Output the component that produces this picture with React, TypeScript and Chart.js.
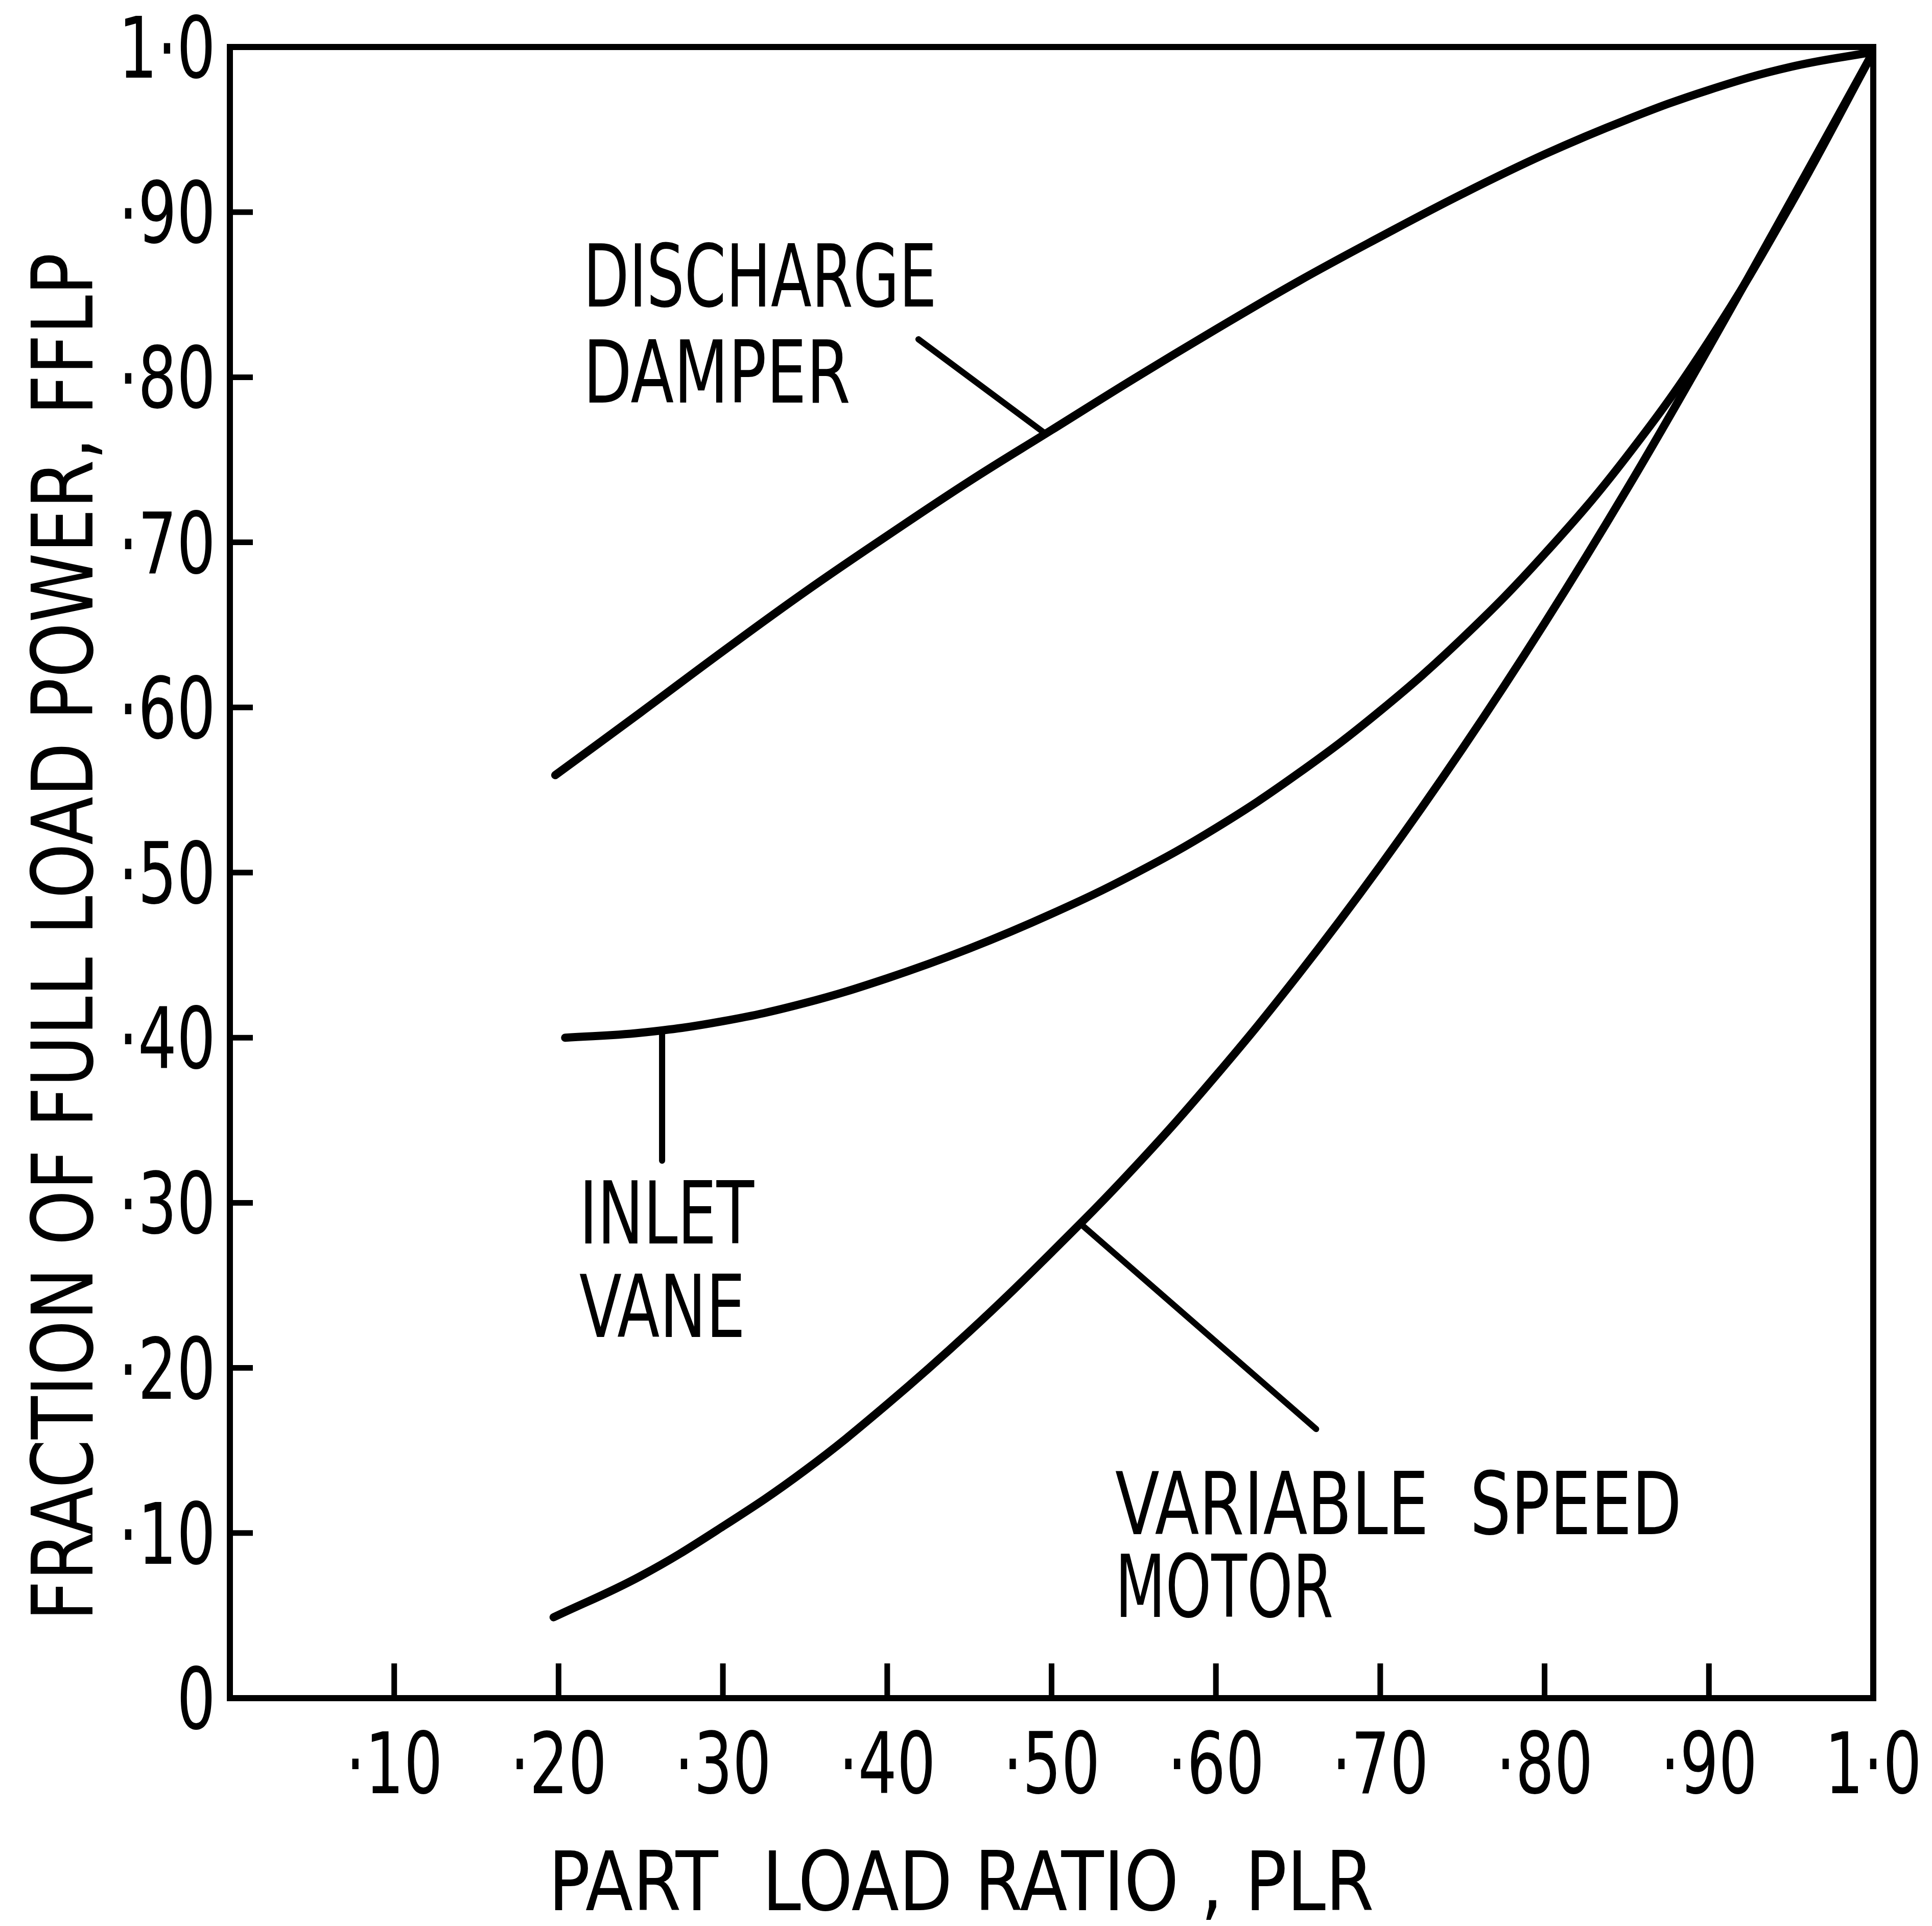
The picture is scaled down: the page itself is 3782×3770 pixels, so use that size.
import { useEffect, useRef } from 'react';
import { Chart, registerables } from 'chart.js';

Chart.register(...registerables);

const W = 3782;
const H = 3770;

// ---- Data ----
const PLR_DISCHARGE = [0.198, 0.25, 0.3, 0.35, 0.4, 0.45, 0.5, 0.55, 0.6, 0.65, 0.7, 0.75, 0.8, 0.85, 0.9, 0.95, 1.0];
const FFLP_DISCHARGE = [0.559, 0.597, 0.634, 0.670, 0.704, 0.737, 0.768, 0.799, 0.829, 0.858, 0.885, 0.911, 0.935, 0.956, 0.974, 0.988, 0.997];

const PLR_INLET = [0.204, 0.25, 0.3, 0.35, 0.4, 0.45, 0.5, 0.55, 0.6, 0.65, 0.7, 0.75, 0.8, 0.85, 0.9, 0.95, 1.0];
const FFLP_INLET = [0.400, 0.403, 0.410, 0.421, 0.436, 0.454, 0.475, 0.499, 0.527, 0.560, 0.598, 0.642, 0.693, 0.752, 0.822, 0.905, 0.997];

const PLR_VSD = [0.197, 0.25, 0.3, 0.35, 0.4, 0.45, 0.5, 0.55, 0.6, 0.65, 0.7, 0.75, 0.8, 0.85, 0.9, 0.95, 1.0];
const FFLP_VSD = [0.049, 0.074, 0.104, 0.138, 0.178, 0.222, 0.270, 0.321, 0.377, 0.438, 0.504, 0.575, 0.651, 0.732, 0.818, 0.907, 0.997];

// leader lines (PLR, FFLP)
const LEADER_DISCHARGE_X = [0.419, 0.496];
const LEADER_DISCHARGE_Y = [0.823, 0.766];
const LEADER_INLET_X = [0.263, 0.263];
const LEADER_INLET_Y = [0.404, 0.3255];
const LEADER_VSD_X = [0.518, 0.661];
const LEADER_VSD_Y = [0.287, 0.163];

const X_TICK_LABELS = ['', '·10', '·20', '·30', '·40', '·50', '·60', '·70', '·80', '·90', '1·0'];
const Y_TICK_LABELS = ['0', '·10', '·20', '·30', '·40', '·50', '·60', '·70', '·80', '·90', '1·0'];

const X_TITLE = 'PART  LOAD RATIO , PLR';
const Y_TITLE = 'FRACTION OF FULL LOAD POWER, FFLP';

const LABEL_TEXTS = ['DISCHARGE', 'DAMPER', 'INLET', 'VANE', 'VARIABLE  SPEED', 'MOTOR'];
const LABEL_X = [0.215, 0.215, 0.2126, 0.2126, 0.5387, 0.5387];
const LABEL_Y = [0.8428, 0.7847, 0.2754, 0.2188, 0.0993, 0.0492];
const LABEL_WIDTHS = [692, 523, 342, 325, 1109, 427];

const FONT = '"DejaVu Sans Condensed", "DejaVu Sans", sans-serif';

function drawFitted(ctx: CanvasRenderingContext2D, text: string, x: number, y: number, width: number, size: number) {
  ctx.save();
  ctx.font = `${size}px ${FONT}`;
  const m = ctx.measureText(text).width;
  const sx = m > 0 ? width / m : 1;
  ctx.translate(x, y);
  ctx.scale(sx, 1);
  ctx.textAlign = 'left';
  ctx.textBaseline = 'alphabetic';
  ctx.fillStyle = '#000';
  ctx.fillText(text, 0, 0);
  ctx.restore();
}

const TICK_SIZE = 165;

const decorPlugin = {
  id: 'decor',
  afterDatasetsDraw(chart: any) {
    const ctx: CanvasRenderingContext2D = chart.ctx;
    const { left, right, top, bottom } = chart.chartArea;
    const xs = chart.scales.x;
    const ys = chart.scales.y;
    ctx.save();
    ctx.strokeStyle = '#000';
    ctx.lineWidth = 12;
    ctx.lineJoin = 'miter';
    ctx.strokeRect(left, top, right - left, bottom - top);
    ctx.lineCap = 'butt';
    ctx.lineWidth = 11;
    // inward tick marks
    xs.ticks.forEach((t: any) => {
      if (t.value <= 0.001 || t.value >= 0.999) return;
      const px = xs.getPixelForValue(t.value);
      ctx.beginPath();
      ctx.moveTo(px, bottom);
      ctx.lineTo(px, bottom - 68);
      ctx.stroke();
    });
    ys.ticks.forEach((t: any) => {
      if (t.value <= 0.001 || t.value >= 0.999) return;
      const py = ys.getPixelForValue(t.value);
      ctx.beginPath();
      ctx.moveTo(left, py);
      ctx.lineTo(left + 45, py);
      ctx.stroke();
    });
    ctx.restore();

    // tick labels (narrow, like the original lettering)
    ctx.save();
    ctx.font = `${TICK_SIZE}px ${FONT}`;
    const f = 190 / ctx.measureText('·90').width;
    ctx.restore();
    xs.ticks.forEach((t: any, i: number) => {
      const lab = X_TICK_LABELS[i];
      if (!lab) return;
      ctx.save();
      ctx.font = `${TICK_SIZE}px ${FONT}`;
      const w = ctx.measureText(lab).width * f;
      ctx.restore();
      drawFitted(ctx, lab, xs.getPixelForValue(t.value) - w / 2, bottom + 186, w, TICK_SIZE);
    });
    ys.ticks.forEach((t: any, i: number) => {
      const lab = Y_TICK_LABELS[i];
      if (!lab) return;
      ctx.save();
      ctx.font = `${TICK_SIZE}px ${FONT}`;
      const w = ctx.measureText(lab).width * f;
      ctx.restore();
      drawFitted(ctx, lab, left - 28 - w, ys.getPixelForValue(t.value) + 60, w, TICK_SIZE);
    });

    // annotation labels
    LABEL_TEXTS.forEach((txt, i) => {
      drawFitted(ctx, txt, xs.getPixelForValue(LABEL_X[i]), ys.getPixelForValue(LABEL_Y[i]), LABEL_WIDTHS[i], 170);
    });

    // axis titles
    const xTitleW = 1616;
    drawFitted(ctx, X_TITLE, xs.getPixelForValue(0.445) - xTitleW / 2, bottom + 415, xTitleW, 160);

    const yTitleW = 2678;
    ctx.save();
    ctx.translate(left - 269, ys.getPixelForValue(0.461));
    ctx.rotate(-Math.PI / 2);
    drawFitted(ctx, Y_TITLE, -yTitleW / 2, 0, yTitleW, 166);
    ctx.restore();
  },
};

function toPoints(xs: number[], ys: number[]) {
  return xs.map((x, i) => ({ x, y: ys[i] }));
}

function curve(label: string, xs: number[], ys: number[]) {
  return {
    label,
    data: toPoints(xs, ys),
    borderColor: '#000',
    backgroundColor: '#000',
    borderWidth: 16,
    pointRadius: 0,
    tension: 0.4,
    borderCapStyle: 'round' as const,
    borderJoinStyle: 'round' as const,
    fill: false,
  };
}

function leader(label: string, xs: number[], ys: number[]) {
  return {
    label,
    data: toPoints(xs, ys),
    borderColor: '#000',
    backgroundColor: '#000',
    borderWidth: 12,
    pointRadius: 0,
    tension: 0,
    borderCapStyle: 'round' as const,
    fill: false,
  };
}

export default function App() {
  const ref = useRef<HTMLCanvasElement>(null);
  useEffect(() => {
    const chart = new Chart(ref.current as HTMLCanvasElement, {
      type: 'line',
      data: {
        datasets: [
          curve('Discharge damper', PLR_DISCHARGE, FFLP_DISCHARGE),
          curve('Inlet vane', PLR_INLET, FFLP_INLET),
          curve('Variable speed motor', PLR_VSD, FFLP_VSD),
          leader('leader-dd', LEADER_DISCHARGE_X, LEADER_DISCHARGE_Y),
          leader('leader-iv', LEADER_INLET_X, LEADER_INLET_Y),
          leader('leader-vs', LEADER_VSD_X, LEADER_VSD_Y),
        ],
      },
      options: {
        animation: false,
        responsive: false,
        devicePixelRatio: 1,
        layout: { padding: { left: 0, right: W - 3667, top: 92, bottom: 0 } },
        plugins: { legend: { display: false }, tooltip: { enabled: false } },
        scales: {
          x: {
            type: 'linear',
            min: 0,
            max: 1,
            afterFit: (s: any) => { s.height = H - 3324; },
            grid: { display: false, drawTicks: false },
            border: { display: false },
            ticks: { stepSize: 0.1, autoSkip: false, display: false },
          },
          y: {
            type: 'linear',
            min: 0,
            max: 1,
            afterFit: (s: any) => { s.width = 450; },
            grid: { display: false, drawTicks: false },
            border: { display: false },
            ticks: { stepSize: 0.1, autoSkip: false, display: false },
          },
        },
      } as any,
      plugins: [decorPlugin],
    });
    return () => chart.destroy();
  }, []);
  return (
    <div style={{ position: 'absolute', left: 0, top: 0, width: W, height: H, background: '#fff' }}>
      <canvas ref={ref} width={W} height={H} style={{ width: W, height: H, display: 'block' }} />
    </div>
  );
}
